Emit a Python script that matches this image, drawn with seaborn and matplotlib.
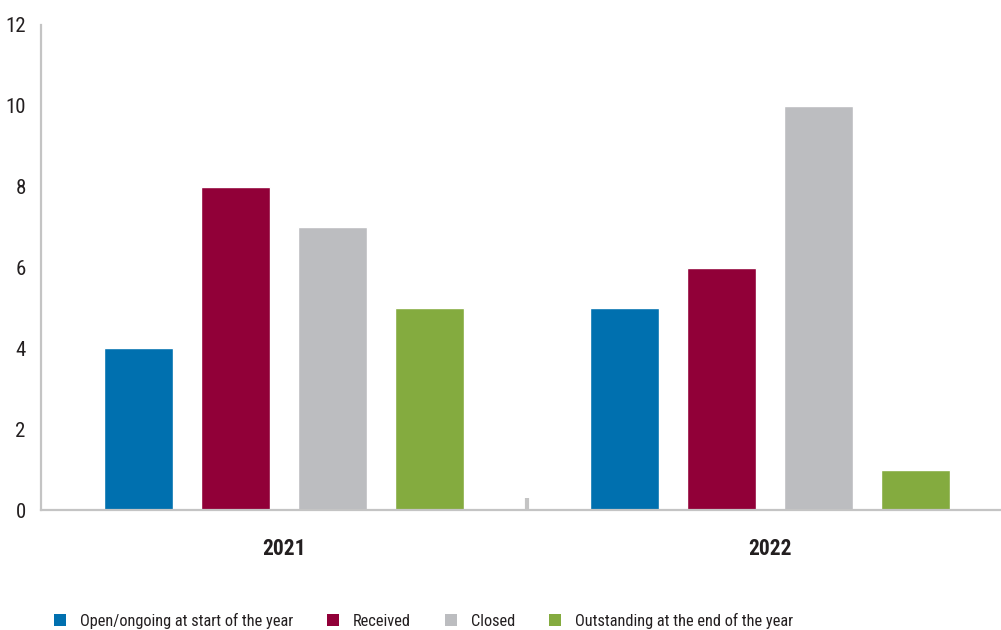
import numpy as np
import pandas as pd
import matplotlib
matplotlib.use("Agg")
import matplotlib.pyplot as plt
from matplotlib.patches import Patch
from matplotlib import font_manager
import seaborn as sns

# data
years = ["2021", "2022"]
categories = ["Open/ongoing at start of the year", "Received", "Closed",
              "Outstanding at the end of the year"]
open_start = [4, 5]
received = [8, 6]
closed = [7, 10]
outstanding = [5, 1]
colors = ["#0070af", "#910038", "#bcbdc0", "#84ab3f"]

rows = []
for i, y in enumerate(years):
    for cat, vals in zip(categories, [open_start, received, closed, outstanding]):
        rows.append({"year": y, "category": cat, "value": vals[i]})
df = pd.DataFrame(rows)

# narrowest font we can find
installed = {f.name for f in font_manager.fontManager.ttflist}
family = "DejaVu Sans"
for name in ["Roboto Condensed", "Open Sans Condensed", "Liberation Sans Narrow", "Roboto"]:
    if name in installed:
        family = name
        break

sns.set_style("white")
plt.rcParams['font.family'] = [family, 'DejaVu Sans']

fig = plt.figure(figsize=(10.01, 6.30), dpi=100)
ax = fig.add_axes([41 / 1001, 120 / 630, 960 / 1001, 485 / 630])

sns.barplot(data=df, x="year", y="value", hue="category", palette=colors,
            width=0.8, gap=0.29, saturation=1, legend=False, ax=ax)

ax.set_xlim(-0.5, -0.5 + 960 / 486)
ax.set_ylim(0, 12)
ax.set_yticks(range(0, 13, 2))
ax.set_xlabel("")
ax.set_ylabel("")

for s in ["top", "right"]:
    ax.spines[s].set_color("none")
for s in ["left", "bottom"]:
    ax.spines[s].set_color("#c4c4c4")
    ax.spines[s].set_linewidth(1.6)

ax.tick_params(axis="y", length=0, pad=11, labelsize=15, labelcolor="#231f20")
ax.tick_params(axis="x", length=0, pad=20, labelsize=15.5, labelcolor="#231f20")
for t in ax.get_xticklabels():
    t.set_fontweight("bold")

# category boundary tick
ax.set_xticks([0.5], minor=True)
ax.tick_params(axis="x", which="minor", bottom=True, direction="in", length=9,
               width=3, color="#c4c4c4")

handles = [Patch(facecolor=c, edgecolor="none") for c in colors]
fig.legend(handles, categories, loc="lower left", bbox_to_anchor=(0.039, -0.022),
           ncol=4, frameon=False, fontsize=11.8, handlelength=0.75, handleheight=0.75,
           handletextpad=0.85, columnspacing=2.05, labelcolor="#231f20")

fig.savefig("out.png", dpi=100)
